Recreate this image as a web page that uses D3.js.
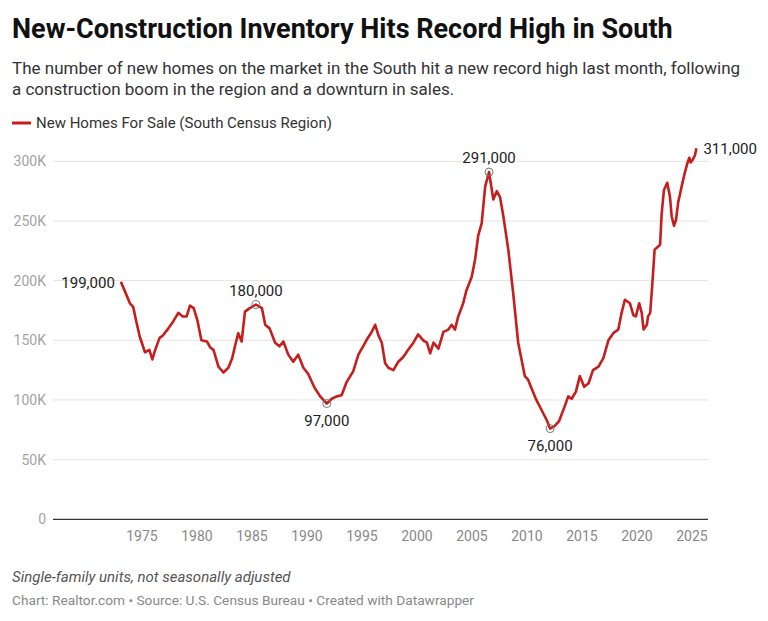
<!DOCTYPE html>
<html>
<head>
<meta charset="utf-8">
<script src="https://cdn.jsdelivr.net/npm/d3@7"></script>
<style>
  body { margin: 0; background: #fff; }
  text { font-family: Roboto, "Noto Sans", sans-serif; }
</style>
</head>
<body>
<div id="chart"></div>
<script>
// data (decimal year, thousands of homes)
const years = [
  1973.08, 1973.45, 1973.9, 1974.2, 1974.45, 1974.8, 1975.27, 1975.67, 1975.94, 1976.2,
  1976.6, 1976.9, 1977.4, 1977.85, 1978.3, 1978.7, 1979.06, 1979.36, 1979.7, 1980.03,
  1980.4, 1980.9, 1981.2, 1981.5, 1981.95, 1982.4, 1982.85, 1983.2, 1983.45, 1983.75,
  1984.06, 1984.36, 1984.8, 1985.36, 1985.9, 1986.2, 1986.6, 1987.1, 1987.5, 1987.85,
  1988.3, 1988.75, 1989.2, 1989.67, 1990.1, 1990.7, 1991.2, 1991.8, 1992.25, 1992.7,
  1993.15, 1993.6, 1994.2, 1994.67, 1995.1, 1995.4, 1995.88, 1996.2, 1996.5, 1996.8,
  1997.1, 1997.4, 1997.85, 1998.3, 1998.75, 1999.2, 1999.67, 2000.1, 2000.57, 2000.9,
  2001.2, 2001.5, 2001.95, 2002.4, 2002.85, 2003.15, 2003.45, 2003.75, 2004.2, 2004.5,
  2004.97, 2005.27, 2005.57, 2005.88, 2006.2, 2006.55, 2006.94, 2007.25, 2007.55, 2007.85,
  2008.3, 2008.75, 2009.2, 2009.8, 2010.1, 2010.4, 2010.85, 2011.3, 2011.8, 2012.1,
  2012.5, 2012.9, 2013.4, 2013.75, 2014.06, 2014.45, 2014.8, 2015.2, 2015.6, 2016.0,
  2016.5, 2016.94, 2017.4, 2017.85, 2018.3, 2018.6, 2018.9, 2019.36, 2019.67, 2019.9,
  2020.2, 2020.43, 2020.6, 2020.9, 2021.0, 2021.2, 2021.4, 2021.6, 2021.85, 2022.1,
  2022.24, 2022.45, 2022.75, 2023.0, 2023.15, 2023.36, 2023.55, 2023.75, 2023.9, 2024.06,
  2024.36, 2024.57, 2024.75, 2024.88, 2025.1, 2025.27, 2025.4
];
const homes = [
  199, 191, 181, 178, 167, 153, 140, 142, 134, 142,
  152, 154, 160, 166, 173, 170, 170, 179, 177, 167,
  150, 149, 144, 142, 128, 123, 127, 135, 145, 156,
  149, 174, 177, 180, 177, 163, 160, 148, 145, 149,
  138, 132, 138, 127, 122, 110, 103, 97, 101, 103,
  104, 115, 124, 138, 145, 150, 157, 163, 154, 148,
  131, 127, 125, 132, 136, 142, 148, 155, 150, 148,
  139, 148, 143, 157, 159, 163, 159, 170, 181, 192,
  203, 217, 238, 248, 279, 291, 268, 275, 270, 254,
  226, 189, 148, 120, 117, 110, 100, 92, 83, 76,
  78, 82, 94, 103, 101, 107, 120, 111, 114, 125,
  128, 135, 150, 156, 159, 173, 184, 181, 171, 170,
  181, 173, 159, 163, 170, 173, 198, 226, 228, 230,
  256, 276, 282, 270, 254, 246, 251, 266, 272, 279,
  291, 298, 303, 299, 302, 305, 311
];

const yTicks = [0, 50, 100, 150, 200, 250, 300];
const xTicks = [1975, 1980, 1985, 1990, 1995, 2000, 2005, 2010, 2015, 2020, 2025];

// highlighted points: year, value, label, placement
const noteYears = [1973.08, 1985.36, 1991.8, 2006.55, 2012.1, 2025.4];
const noteValues = [199, 180, 97, 291, 76, 311];
const noteLabels = ["199,000", "180,000", "97,000", "291,000", "76,000", "311,000"];
const notePlaces = ["left", "above", "below", "above", "below", "right"];
const noteCircle = [false, true, true, true, true, false];

const W = 768, H = 621;
const red = "#c71e1d";

const svg = d3.select("#chart").append("svg")
  .attr("width", W).attr("height", H);

// header
svg.append("text")
  .attr("x", 12).attr("y", 38)
  .style("font-size", "27px").style("font-weight", 700)
  .style("fill", "#111")
  .text("New-Construction Inventory Hits Record High in South");

const sub = svg.append("text")
  .style("font-size", "17px").style("fill", "#333");
sub.append("tspan").attr("x", 12).attr("y", 74)
  .text("The number of new homes on the market in the South hit a new record high last month, following");
sub.append("tspan").attr("x", 12).attr("y", 95)
  .text("a construction boom in the region and a downturn in sales.");

// legend
svg.append("line")
  .attr("x1", 12).attr("x2", 31).attr("y1", 123).attr("y2", 123)
  .style("stroke", red).style("stroke-width", 3);
svg.append("text")
  .attr("x", 36).attr("y", 128)
  .style("font-size", "15px").style("fill", "#333")
  .text("New Homes For Sale (South Census Region)");

// scales
const x = d3.scaleLinear().domain([1975, 2025]).range([142, 692]);
const y = d3.scaleLinear().domain([0, 300]).range([519.3, 161.3]);
const gridLeft = 53, gridRight = 708;

// gridlines + y labels
const grid = svg.append("g").attr("class", "grid");
grid.selectAll("line")
  .data(yTicks)
  .enter().append("line")
  .attr("x1", gridLeft).attr("x2", gridRight)
  .attr("y1", d => y(d)).attr("y2", d => y(d))
  .style("stroke", d => d === 0 ? "#333" : "#e3e3e3")
  .style("stroke-width", d => d === 0 ? 1.3 : 1);
grid.selectAll("text")
  .data(yTicks)
  .enter().append("text")
  .attr("x", 46).attr("y", d => y(d))
  .attr("dy", "0.35em")
  .attr("text-anchor", "end")
  .style("font-size", "14px").style("fill", "#a3a3a3")
  .text(d => d === 0 ? "0" : d + "K");

// x labels
svg.append("g").attr("class", "xlabels")
  .selectAll("text")
  .data(xTicks)
  .enter().append("text")
  .attr("x", d => x(d)).attr("y", 541)
  .attr("text-anchor", "middle")
  .style("font-size", "14px").style("fill", "#888")
  .text(d => d);

// line
const series = years.map((yr, i) => ({ yr: yr, v: homes[i] }));
svg.append("path")
  .datum(series)
  .attr("d", d3.line().x(d => x(d.yr)).y(d => y(d.v)))
  .style("fill", "none")
  .style("stroke", red)
  .style("stroke-width", 2.6)
  .style("stroke-linejoin", "round");

// annotations
const notes = noteYears.map((yr, i) => ({
  yr: yr, v: noteValues[i], label: noteLabels[i], place: notePlaces[i], circle: noteCircle[i]
}));
const ng = svg.append("g").attr("class", "notes");
ng.selectAll("circle")
  .data(notes.filter(d => d.circle))
  .enter().append("circle")
  .attr("cx", d => x(d.yr)).attr("cy", d => y(d.v))
  .attr("r", 4)
  .style("fill", "none").style("stroke", "#777").style("stroke-width", 1);
ng.selectAll("text")
  .data(notes)
  .enter().append("text")
  .attr("x", d => d.place === "left" ? x(d.yr) - 6 : d.place === "right" ? x(d.yr) + 7 : x(d.yr))
  .attr("y", d => d.place === "above" ? y(d.v) - 9 : d.place === "below" ? y(d.v) + 22 : y(d.v) + 1)
  .attr("dy", d => (d.place === "left" || d.place === "right") ? "0.35em" : 0)
  .attr("text-anchor", d => d.place === "left" ? "end" : d.place === "right" ? "start" : "middle")
  .style("font-size", "15px").style("fill", "#222")
  .text(d => d.label);

// footer
svg.append("text")
  .attr("x", 12).attr("y", 582)
  .style("font-size", "15px").style("font-style", "italic").style("fill", "#555")
  .text("Single-family units, not seasonally adjusted");
svg.append("text")
  .attr("x", 12).attr("y", 605)
  .style("font-size", "13.7px").style("fill", "#888")
  .text("Chart: Realtor.com \u2022 Source: U.S. Census Bureau \u2022 Created with Datawrapper");
</script>
</body>
</html>
